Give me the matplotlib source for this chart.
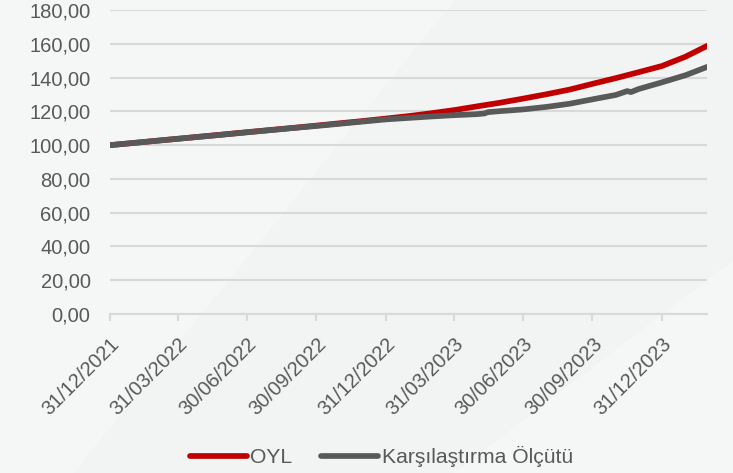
import numpy as np
import pandas as pd
import matplotlib
matplotlib.use('Agg')
import matplotlib.pyplot as plt
import matplotlib.dates as mdates
from matplotlib.patches import Polygon
from matplotlib.ticker import FuncFormatter

# values
oyl_dates = ['2021-12-31', '2022-01-31', '2022-02-28', '2022-03-31', '2022-04-30',
             '2022-05-31', '2022-06-30', '2022-07-31', '2022-08-31', '2022-09-30',
             '2022-10-31', '2022-11-30', '2022-12-31', '2023-01-31', '2023-02-28',
             '2023-03-31', '2023-04-30', '2023-05-31', '2023-06-30', '2023-07-31',
             '2023-08-31', '2023-09-30', '2023-10-31', '2023-11-30', '2023-12-31',
             '2024-01-31', '2024-02-29']
oyl_values = [100.0, 101.3, 102.5, 103.8, 105.1, 106.4, 107.7, 109.0, 110.3, 111.6,
              113.0, 114.3, 115.8, 117.3, 118.9, 120.8, 123.0, 125.2, 127.6, 130.2,
              133.0, 136.4, 139.8, 143.3, 147.0, 152.5, 159.0]

bench_dates = ['2021-12-31', '2022-01-31', '2022-02-28', '2022-03-31', '2022-04-30',
               '2022-05-31', '2022-06-30', '2022-07-31', '2022-08-31', '2022-09-30',
               '2022-10-31', '2022-11-30', '2022-12-31', '2023-01-31', '2023-02-28',
               '2023-03-31', '2023-04-30', '2023-05-10', '2023-05-15', '2023-05-31',
               '2023-06-30', '2023-07-31', '2023-08-31', '2023-09-30', '2023-10-31',
               '2023-11-15', '2023-11-20', '2023-11-30', '2023-12-31', '2024-01-31',
               '2024-02-29']
bench_values = [100.0, 101.3, 102.5, 103.8, 105.0, 106.3, 107.6, 108.9, 110.2, 111.4,
                112.7, 114.0, 115.3, 116.2, 117.0, 117.8, 118.4, 118.8, 119.6, 120.2,
                121.2, 122.7, 124.6, 127.2, 129.8, 132.1, 131.5, 133.3, 137.3, 141.5,
                146.5]

tick_dates = ['2021-12-31', '2022-03-31', '2022-06-30', '2022-09-30', '2022-12-31',
              '2023-03-31', '2023-06-30', '2023-09-30', '2023-12-31']
y_ticks = np.arange(0, 181, 20)

oyl_x = pd.to_datetime(oyl_dates)
bench_x = pd.to_datetime(bench_dates)
ticks_x = pd.to_datetime(tick_dates)

plt.rcParams['font.family'] = ['Liberation Sans', 'DejaVu Sans']
txt = '#595959'
grid_c = '#d9d9d9'

fig = plt.figure(figsize=(7.33, 4.73), dpi=100, facecolor='#f2f3f3')

# faint diagonal light bands in the background, on an axes behind the chart
bg = fig.add_axes([0, 0, 1, 1], zorder=-1)
bg.set_axis_off()
bg.set_xlim(0, 1)
bg.set_ylim(0, 1)
bg.add_patch(Polygon([[0, 0], [0, 1], [0.62, 1], [0.1, 0]], closed=True,
                     facecolor='white', alpha=0.3, edgecolor='none'))
bg.add_patch(Polygon([[0.62, 0], [1, 0.45], [1, 0]], closed=True,
                     facecolor='white', alpha=0.25, edgecolor='none'))

ax = fig.add_axes([0.150, 0.337, 0.815, 0.641])
ax.set_facecolor('none')

ax.plot(oyl_x, oyl_values, color='#c00000', lw=4.1, solid_capstyle='round',
        label='OYL', zorder=3)
ax.plot(bench_x, bench_values, color='#595959', lw=4.1, solid_capstyle='round',
        label='Karşılaştırma Ölçütü', zorder=4)

ax.set_ylim(0, 180)
ax.set_xlim(pd.Timestamp('2021-12-31'), pd.Timestamp('2024-02-29'))
ax.set_yticks(y_ticks)
ax.yaxis.set_major_formatter(FuncFormatter(lambda v, p: f'{v:.2f}'.replace('.', ',')))
ax.set_xticks(ticks_x)
ax.xaxis.set_major_formatter(mdates.DateFormatter('%d/%m/%Y'))

ax.grid(axis='y', color=grid_c, lw=1.5, zorder=1)
for s in ['left', 'right', 'top']:
    ax.spines[s].set_visible(False)
ax.spines['bottom'].set_color(grid_c)
ax.spines['bottom'].set_linewidth(1.5)

ax.tick_params(axis='y', length=0, pad=14, labelsize=14.5, labelcolor=txt)
ax.tick_params(axis='x', length=5, width=1.5, color=grid_c, pad=10,
               labelsize=14.5, labelcolor=txt)
for lab in ax.get_xticklabels():
    lab.set_rotation(45)
    lab.set_ha('right')
    lab.set_va('top')
    lab.set_rotation_mode('anchor')

fig.legend(loc='center', bbox_to_anchor=(0.52, 0.034), ncol=2, frameon=False,
           fontsize=15.2, labelcolor=txt, handlelength=2.7, handletextpad=0.15,
           columnspacing=1.4)

fig.savefig('out.png', dpi=100, facecolor=fig.get_facecolor())
